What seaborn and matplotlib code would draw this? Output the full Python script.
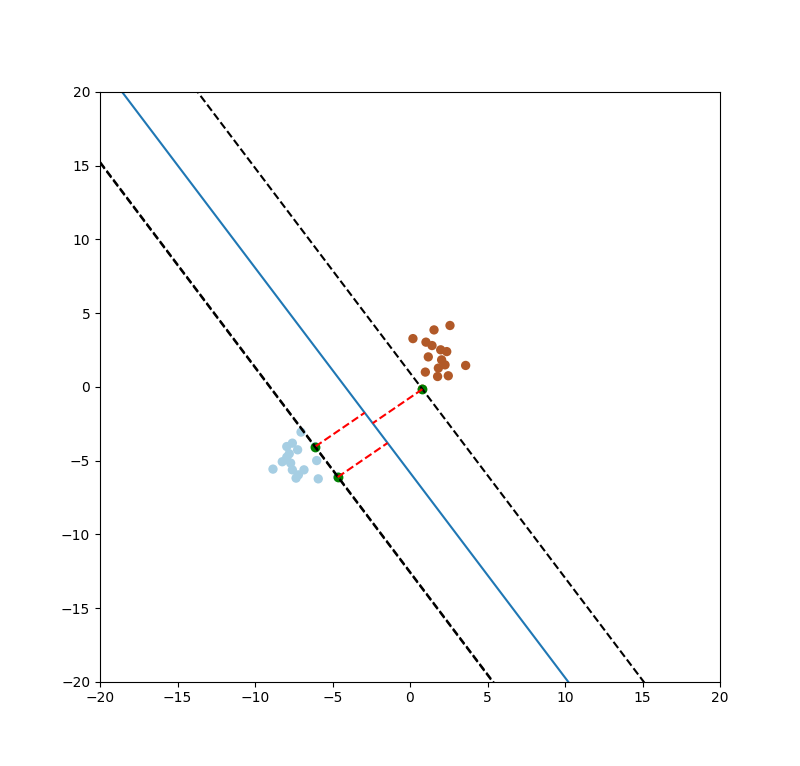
import numpy as np
import pandas as pd
import matplotlib
matplotlib.use("Agg")
import matplotlib.pyplot as plt
import seaborn as sns

# class 0 (light blue) points
x0 = [-7.03, -7.95, -7.59, -7.25, -7.79, -7.95, -6.02, -8.24, -7.70, -8.84,
      -7.59, -6.84, -7.20, -7.35, -5.92, -6.11, -4.66]
y0 = [-3.07, -4.05, -3.82, -4.27, -4.54, -4.77, -5.00, -5.08, -5.17, -5.58,
      -5.63, -5.63, -5.97, -6.19, -6.24, -4.05, -6.12]
# class 1 (brown) points
x1 = [2.58, 1.55, 0.19, 1.03, 1.42, 1.98, 2.37, 1.18, 2.04, 2.26,
      3.59, 1.83, 0.99, 1.78, 2.47, 0.80]
y1 = [4.16, 3.86, 3.27, 3.03, 2.80, 2.51, 2.39, 2.03, 1.83, 1.49,
      1.45, 1.27, 1.00, 0.70, 0.75, -0.16]

# support vectors
sv_x = [-6.11, -4.66, 0.80]
sv_y = [-4.05, -6.12, -0.16]

# hyperplane  w0*x + w1*y + b = 0
w = np.array([0.205, 0.1475])
b = 0.858

df = pd.DataFrame({
    "x": x0 + x1,
    "y": y0 + y1,
    "label": [0] * len(x0) + [1] * len(x1),
})

fig, ax = plt.subplots(figsize=(8, 7.66), dpi=100)

sns.scatterplot(data=df, x="x", y="y", hue="label",
                palette={0: "#a6cee3", 1: "#b15928"},
                s=45, linewidth=0, legend=False, ax=ax)
sns.scatterplot(x=sv_x, y=sv_y, color="green", s=50, linewidth=0, ax=ax)

xx = np.array([-20, 20])
ax.plot(xx, (-b - w[0] * xx) / w[1], "-", color="#1f77b4")

# margin line through each support vector + perpendicular to hyperplane
for sx, sy in zip(sv_x, sv_y):
    p = np.array([sx, sy])
    val = w @ p + b
    ax.plot(xx, (val - b - w[0] * xx) / w[1], "k--")
    foot = p - val / (w @ w) * w
    ax.plot([sx, foot[0]], [sy, foot[1]], "r--")

ax.set_xlim(-20, 20)
ax.set_ylim(-20, 20)
ax.set_xticks(range(-20, 21, 5))
ax.set_yticks(range(-20, 21, 5))
ax.set_xlabel("")
ax.set_ylabel("")

plt.savefig("out.png")
